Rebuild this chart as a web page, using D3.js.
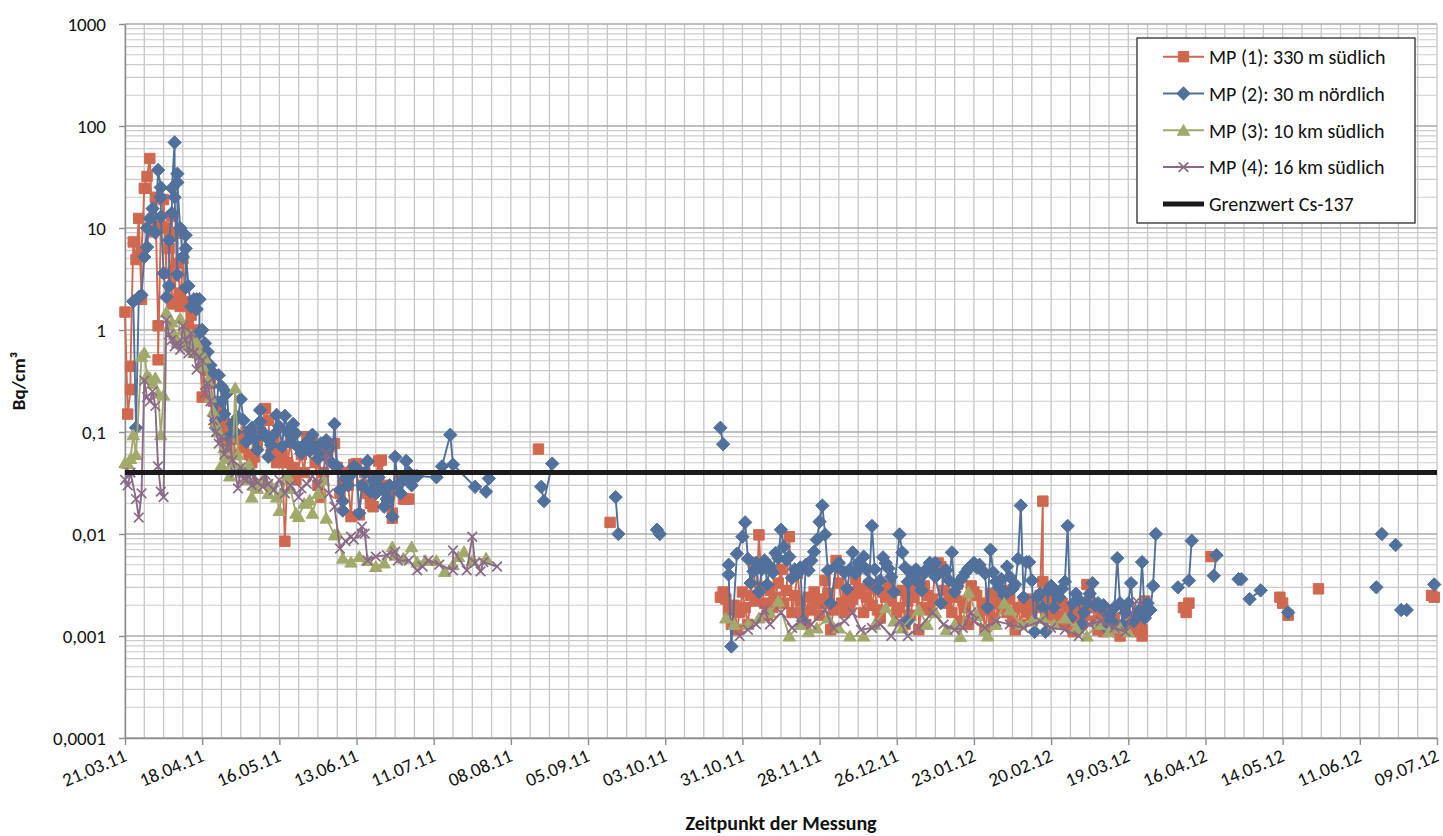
<!DOCTYPE html>
<html><head><meta charset="utf-8">
<script src="https://cdn.jsdelivr.net/npm/d3@7"></script>
<style>
body{margin:0;background:#fff}
svg text{font-family:Calibri,Carlito,Lato,"Open Sans",sans-serif}
</style>
</head><body>
<svg id="chart" width="1443" height="836"></svg>
<script>
// ---------- data ----------
const tickDates = ["21.03.11","18.04.11","16.05.11","13.06.11","11.07.11","08.08.11","05.09.11","03.10.11","31.10.11","28.11.11","26.12.11","23.01.12","20.02.12","19.03.12","16.04.12","14.05.12","11.06.12","09.07.12"];
const yTickValues = [0.0001,0.001,0.01,0.1,1,10,100,1000];
const yTickLabels = ["0,0001","0,001","0,01","0,1","1","10","100","1000"];
const seriesNames = ["MP (1): 330 m südlich","MP (2): 30 m nördlich","MP (3): 10 km südlich","MP (4): 16 km südlich","Grenzwert Cs-137"];
const limitValue = 0.04;
const yTitle = "Bq/cm³";
const xTitle = "Zeitpunkt der Messung";

const mp1 = [["21.03.11",1.5],["22.03.11",0.15],["23.03.11",0.26],["23.03.11",0.44],["24.03.11",7.3],["25.03.11",4.9],["26.03.11",12.4],["27.03.11",2.0],["27.03.11",5.8],["28.03.11",24.5],["29.03.11",32],["30.03.11",48],["31.03.11",9.2],["01.04.11",20],["02.04.11",1.1],["02.04.11",0.51],["03.04.11",10.3],["04.04.11",19],["05.04.11",3.6],["05.04.11",10],["06.04.11",6.3],["07.04.11",1.8],["07.04.11",13],["08.04.11",2.0],["09.04.11",8.9],["09.04.11",4.5],["10.04.11",2.3],["10.04.11",1.7],["11.04.11",5],["12.04.11",1.9],["13.04.11",1.1],["14.04.11",1.4],["15.04.11",0.9],["16.04.11",1.0],["17.04.11",0.7],["18.04.11",0.22],["19.04.11",0.51],["20.04.11",0.4],["21.04.11",0.3],["22.04.11",0.2],["23.04.11",0.12],["24.04.11",0.18],["25.04.11",0.1],["26.04.11",0.08],["27.04.11",0.12],["28.04.11",0.07],["29.04.11",0.09],["30.04.11",0.06],["02.05.11",0.085],["03.05.11",0.07],["04.05.11",0.1],["05.05.11",0.06],["06.05.11",0.05],["07.05.11",0.057],["08.05.11",0.08],["09.05.11",0.1],["11.05.11",0.17],["12.05.11",0.13],["13.05.11",0.06],["14.05.11",0.09],["15.05.11",0.05],["16.05.11",0.07],["17.05.11",0.06],["18.05.11",0.0085],["19.05.11",0.05],["20.05.11",0.08],["21.05.11",0.045],["22.05.11",0.034],["24.05.11",0.06],["25.05.11",0.04],["26.05.11",0.09],["28.05.11",0.083],["29.05.11",0.05],["30.05.11",0.03],["31.05.11",0.023],["01.06.11",0.04],["02.06.11",0.06],["03.06.11",0.072],["05.06.11",0.077],["06.06.11",0.045],["07.06.11",0.025],["08.06.11",0.03],["09.06.11",0.04],["10.06.11",0.03],["11.06.11",0.0148],["12.06.11",0.048],["13.06.11",0.049],["14.06.11",0.0154],["15.06.11",0.03],["16.06.11",0.04],["17.06.11",0.025],["18.06.11",0.02],["19.06.11",0.0185],["20.06.11",0.035],["21.06.11",0.052],["22.06.11",0.029],["22.06.11",0.053],["23.06.11",0.03],["24.06.11",0.02],["25.06.11",0.025],["26.06.11",0.0143],["26.06.11",0.016],["27.06.11",0.028],["28.06.11",0.028],["29.06.11",0.035],["30.06.11",0.022],["01.07.11",0.022],["02.07.11",0.022],null,["18.08.11",0.068],null,["13.09.11",0.013],null,
["23.10.11",0.0024],["24.10.11",0.0027],["25.10.11",0.0023],["26.10.11",0.0018],["27.10.11",0.0013],["28.10.11",0.002],["29.10.11",0.00115],["30.10.11",0.0017],["31.10.11",0.0027],["01.11.11",0.0019],["02.11.11",0.0013],["03.11.11",0.0025],["04.11.11",0.0052],["05.11.11",0.0022],["06.11.11",0.0098],["07.11.11",0.003],["08.11.11",0.0021],["09.11.11",0.0016],["10.11.11",0.0028],["11.11.11",0.0019],["12.11.11",0.0024],["13.11.11",0.0033],["14.11.11",0.0045],["15.11.11",0.0021],["16.11.11",0.0028],["17.11.11",0.0094],["18.11.11",0.0017],["19.11.11",0.0025],["20.11.11",0.0041],["21.11.11",0.0022],["22.11.11",0.0017],["23.11.11",0.0013],["24.11.11",0.0024],["25.11.11",0.0018],["26.11.11",0.0027],["27.11.11",0.0023],["28.11.11",0.0016],["29.11.11",0.0021],["30.11.11",0.0035],["01.12.11",0.0026],["02.12.11",0.00115],["03.12.11",0.0018],["04.12.11",0.0055],["05.12.11",0.0033],["06.12.11",0.0021],["07.12.11",0.0017],["08.12.11",0.0026],["09.12.11",0.0019],["10.12.11",0.0023],["11.12.11",0.0036],["12.12.11",0.0029],["13.12.11",0.0026],["14.12.11",0.0017],["15.12.11",0.0024],["16.12.11",0.0032],["17.12.11",0.0020],["18.12.11",0.0029],["19.12.11",0.0018],["20.12.11",0.0015],["21.12.11",0.0027],["22.12.11",0.0024],["23.12.11",0.0031],["24.12.11",0.0022],["26.12.11",0.0017],["27.12.11",0.0019],["28.12.11",0.0028],["29.12.11",0.0013],["30.12.11",0.0022],["31.12.11",0.0016],["01.01.12",0.0024],["02.01.12",0.0029],["03.01.12",0.0035],["03.01.12",0.00115],["04.01.12",0.0019],["05.01.12",0.0031],["06.01.12",0.0025],["07.01.12",0.0018],["08.01.12",0.0023],["09.01.12",0.0047],["10.01.12",0.0052],["11.01.12",0.0048],["12.01.12",0.0028],["13.01.12",0.0021],["14.01.12",0.0026],["15.01.12",0.0017],["16.01.12",0.0024],["17.01.12",0.0032],["18.01.12",0.0014],["19.01.12",0.0022],["20.01.12",0.0019],["21.01.12",0.0013],["22.01.12",0.0031],["23.01.12",0.0027],["24.01.12",0.0025],["25.01.12",0.0016],["26.01.12",0.0021],["27.01.12",0.00115],["28.01.12",0.0018],["29.01.12",0.0026],["30.01.12",0.0015],["31.01.12",0.0021],["01.02.12",0.0024],["02.02.12",0.0019],["03.02.12",0.0028],["04.02.12",0.0017],["05.02.12",0.0023],["06.02.12",0.0014],["07.02.12",0.00115],["08.02.12",0.0019],["09.02.12",0.0013],["10.02.12",0.0022],["11.02.12",0.0017],["12.02.12",0.0023],["13.02.12",0.0016],["14.02.12",0.0021],["15.02.12",0.0019],["16.02.12",0.0025],["17.02.12",0.021],["17.02.12",0.0034],["18.02.12",0.0015],["19.02.12",0.0024],["20.02.12",0.0018],["21.02.12",0.0022],["22.02.12",0.0014],["23.02.12",0.0016],["24.02.12",0.0021],["25.02.12",0.0013],["26.02.12",0.0019],["27.02.12",0.0017],["28.02.12",0.0011],["29.02.12",0.0015],["01.03.12",0.0018],["02.03.12",0.0013],["03.03.12",0.0016],["04.03.12",0.0032],["05.03.12",0.0022],["06.03.12",0.0019],["07.03.12",0.0014],["08.03.12",0.00115],["09.03.12",0.0016],["10.03.12",0.0011],["11.03.12",0.0013],["12.03.12",0.0017],["13.03.12",0.0012],["14.03.12",0.0015],["15.03.12",0.0011],["16.03.12",0.001],["18.03.12",0.0019],["19.03.12",0.00115],["20.03.12",0.0012],["21.03.12",0.0015],["22.03.12",0.0011],["23.03.12",0.0013],["24.03.12",0.001],["24.03.12",0.00115],["25.03.12",0.0022],null,
["08.04.12",0.0019],["09.04.12",0.0017],["10.04.12",0.0021],null,["18.04.12",0.006],null,["13.05.12",0.0024],["14.05.12",0.0021],["16.05.12",0.0016],null,["27.05.12",0.0029],null,["07.07.12",0.0025],["08.07.12",0.0024]];

const mp2 = [["24.03.11",1.9],["25.03.11",0.11],["26.03.11",2.1],["27.03.11",2.2],["28.03.11",5.2],["29.03.11",10],["29.03.11",6.5],["30.03.11",12.4],["31.03.11",15.5],["01.04.11",9],["02.04.11",37],["03.04.11",25],["03.04.11",20],["03.04.11",12.9],["04.04.11",3.6],["05.04.11",2.1],["06.04.11",2.7],["06.04.11",7.6],["07.04.11",14],["07.04.11",24.5],["08.04.11",69],["08.04.11",20],["09.04.11",3.5],["09.04.11",34],["09.04.11",28],["10.04.11",10],["11.04.11",5.2],["12.04.11",8.5],["12.04.11",2.6],["12.04.11",6.3],["13.04.11",2.7],["14.04.11",1.7],["15.04.11",2.0],["16.04.11",1.6],["16.04.11",2.0],["17.04.11",2.0],["17.04.11",0.93],["18.04.11",1.0],["19.04.11",0.74],["20.04.11",0.61],["21.04.11",0.45],["22.04.11",0.38],["23.04.11",0.13],["23.04.11",0.11],["24.04.11",0.36],["25.04.11",0.28],["25.04.11",0.2],["26.04.11",0.15],["27.04.11",0.24],["28.04.11",0.09],["29.04.11",0.12],["30.04.11",0.1],["01.05.11",0.14],["02.05.11",0.21],["03.05.11",0.13],["04.05.11",0.08],["05.05.11",0.1],["06.05.11",0.11],["07.05.11",0.085],["08.05.11",0.067],["09.05.11",0.126],["09.05.11",0.164],["10.05.11",0.1],["11.05.11",0.09],["12.05.11",0.057],["13.05.11",0.075],["14.05.11",0.094],["15.05.11",0.147],["16.05.11",0.113],["17.05.11",0.072],["18.05.11",0.144],["19.05.11",0.1],["20.05.11",0.08],["21.05.11",0.12],["22.05.11",0.097],["23.05.11",0.07],["24.05.11",0.062],["25.05.11",0.075],["26.05.11",0.08],["27.05.11",0.065],["28.05.11",0.094],["29.05.11",0.07],["30.05.11",0.055],["31.05.11",0.077],["01.06.11",0.06],["02.06.11",0.083],["03.06.11",0.07],["04.06.11",0.05],["05.06.11",0.12],["06.06.11",0.046],["07.06.11",0.027],["08.06.11",0.017],["08.06.11",0.021],["09.06.11",0.035],["10.06.11",0.03],["11.06.11",0.038],["12.06.11",0.046],["13.06.11",0.044],["14.06.11",0.016],["15.06.11",0.03],["16.06.11",0.04],["17.06.11",0.052],["17.06.11",0.051],["18.06.11",0.026],["19.06.11",0.033],["20.06.11",0.025],["21.06.11",0.036],["22.06.11",0.028],["23.06.11",0.0185],["23.06.11",0.027],["24.06.11",0.022],["25.06.11",0.03],["26.06.11",0.0148],["27.06.11",0.057],["28.06.11",0.03],["29.06.11",0.025],["30.06.11",0.034],["01.07.11",0.052],["02.07.11",0.04],["03.07.11",0.03],["04.07.11",0.037],["05.07.11",0.037],["12.07.11",0.036],["14.07.11",0.046],["17.07.11",0.094],["18.07.11",0.048],["26.07.11",0.029],["30.07.11",0.026],["31.07.11",0.035],null,["19.08.11",0.029],["20.08.11",0.021],["23.08.11",0.049],null,["15.09.11",0.023],["16.09.11",0.010],null,["30.09.11",0.011],["01.10.11",0.010],null,["23.10.11",0.11],["24.10.11",0.076],null,
["26.10.11",0.005],["26.10.11",0.004],["27.10.11",0.00079],["29.10.11",0.0064],["31.10.11",0.0094],["01.11.11",0.013],["02.11.11",0.0057],["03.11.11",0.0033],["04.11.11",0.0043],["05.11.11",0.0052],["06.11.11",0.0027],["07.11.11",0.0045],["08.11.11",0.0055],["09.11.11",0.0032],["10.11.11",0.0048],["11.11.11",0.0042],["12.11.11",0.0065],["13.11.11",0.0058],["14.11.11",0.011],["15.11.11",0.0075],["16.11.11",0.0056],["17.11.11",0.006],["18.11.11",0.0037],["19.11.11",0.0045],["20.11.11",0.0041],["21.11.11",0.0047],["22.11.11",0.0014],["23.11.11",0.005],["24.11.11",0.0044],["25.11.11",0.0055],["26.11.11",0.0067],["27.11.11",0.0088],["28.11.11",0.0132],["29.11.11",0.019],["30.11.11",0.0099],["01.12.11",0.0044],["02.12.11",0.0021],["04.12.11",0.0048],["05.12.11",0.0052],["07.12.11",0.0042],["08.12.11",0.0029],["09.12.11",0.0045],["10.12.11",0.0066],["11.12.11",0.0041],["12.12.11",0.0052],["13.12.11",0.0048],["14.12.11",0.006],["15.12.11",0.0045],["16.12.11",0.0034],["17.12.11",0.012],["18.12.11",0.0045],["19.12.11",0.0029],["20.12.11",0.0035],["21.12.11",0.0059],["22.12.11",0.0052],["23.12.11",0.0046],["24.12.11",0.0038],["25.12.11",0.0027],["27.12.11",0.0099],["28.12.11",0.0066],["29.12.11",0.0047],["30.12.11",0.0034],["30.12.11",0.0014],["31.12.11",0.0042],["01.01.12",0.0038],["02.01.12",0.0045],["03.01.12",0.0033],["04.01.12",0.0028],["05.01.12",0.0041],["06.01.12",0.0046],["07.01.12",0.0052],["08.01.12",0.0045],["09.01.12",0.0052],["09.01.12",0.0038],["11.01.12",0.0021],["12.01.12",0.0043],["13.01.12",0.0044],["14.01.12",0.0035],["15.01.12",0.0066],["16.01.12",0.0027],["17.01.12",0.0031],["18.01.12",0.0035],["19.01.12",0.0038],["20.01.12",0.0042],["21.01.12",0.0046],["22.01.12",0.0049],["23.01.12",0.0052],["24.01.12",0.0047],["25.01.12",0.005],["26.01.12",0.0044],["27.01.12",0.0041],["28.01.12",0.0019],["29.01.12",0.007],["30.01.12",0.0042],["31.01.12",0.0034],["01.02.12",0.0030],["02.02.12",0.0036],["03.02.12",0.0025],["04.02.12",0.0048],["05.02.12",0.0038],["06.02.12",0.0029],["07.02.12",0.0032],["08.02.12",0.0057],["09.02.12",0.019],["10.02.12",0.0024],["11.02.12",0.0053],["12.02.12",0.0053],["13.02.12",0.0035],["14.02.12",0.0011],["15.02.12",0.0024],["16.02.12",0.0026],["17.02.12",0.0019],["18.02.12",0.0011],["19.02.12",0.0028],["20.02.12",0.0031],["21.02.12",0.0019],["22.02.12",0.0027],["23.02.12",0.0024],["24.02.12",0.0029],["25.02.12",0.0034],["26.02.12",0.012],["27.02.12",0.0015],["28.02.12",0.0021],["29.02.12",0.0026],["01.03.12",0.0023],["02.03.12",0.0013],["03.03.12",0.0017],["04.03.12",0.0021],["05.03.12",0.0026],["06.03.12",0.0033],["07.03.12",0.0020],["08.03.12",0.0021],["09.03.12",0.0019],["10.03.12",0.0020],["11.03.12",0.0012],["12.03.12",0.0016],["13.03.12",0.0014],["14.03.12",0.0019],["15.03.12",0.0058],["16.03.12",0.0021],["17.03.12",0.0013],["18.03.12",0.0017],["19.03.12",0.0021],["20.03.12",0.0033],["21.03.12",0.0014],["22.03.12",0.0016],["23.03.12",0.0018],["24.03.12",0.0053],["25.03.12",0.0015],["26.03.12",0.0021],["27.03.12",0.0018],["28.03.12",0.0031],["29.03.12",0.0100],null,
["06.04.12",0.0030],["10.04.12",0.0035],["11.04.12",0.0086],null,["19.04.12",0.0039],["20.04.12",0.0062],null,["28.04.12",0.0036],["29.04.12",0.0036],null,["02.05.12",0.0023],["06.05.12",0.0028],null,["16.05.12",0.0017],null,["17.06.12",0.0030],null,["19.06.12",0.0100],null,["24.06.12",0.0078],null,["26.06.12",0.0018],["28.06.12",0.0018],null,["08.07.12",0.0032]];

const mp3 = [["21.03.11",0.05],["22.03.11",0.049],["23.03.11",0.055],["24.03.11",0.094],["25.03.11",0.06],["27.03.11",0.55],["28.03.11",0.6],["29.03.11",0.36],["30.03.11",0.34],["31.03.11",0.3],["01.04.11",0.34],["02.04.11",0.24],["03.04.11",0.094],["04.04.11",0.23],["05.04.11",1.5],["06.04.11",1.1],["07.04.11",1.2],["08.04.11",0.9],["09.04.11",0.75],["10.04.11",1.3],["11.04.11",1.0],["12.04.11",0.8],["13.04.11",0.7],["14.04.11",0.9],["15.04.11",0.6],["16.04.11",0.75],["17.04.11",0.6],["18.04.11",0.45],["19.04.11",0.53],["20.04.11",0.32],["21.04.11",0.22],["22.04.11",0.16],["23.04.11",0.12],["24.04.11",0.1],["25.04.11",0.048],["26.04.11",0.07],["27.04.11",0.055],["28.04.11",0.037],["29.04.11",0.05],["30.04.11",0.27],["01.05.11",0.06],["02.05.11",0.046],["03.05.11",0.04],["04.05.11",0.034],["05.05.11",0.048],["06.05.11",0.023],["07.05.11",0.03],["08.05.11",0.028],["10.05.11",0.034],["12.05.11",0.025],["13.05.11",0.03],["15.05.11",0.023],["16.05.11",0.017],["17.05.11",0.026],["19.05.11",0.037],["20.05.11",0.028],["22.05.11",0.016],["23.05.11",0.0148],["25.05.11",0.02],["27.05.11",0.0215],["28.05.11",0.016],["30.05.11",0.025],["01.06.11",0.034],["02.06.11",0.0143],["05.06.11",0.0098],["06.06.11",0.0101],["08.06.11",0.0058],["11.06.11",0.0053],["14.06.11",0.006],["17.06.11",0.0055],["20.06.11",0.0048],["23.06.11",0.0052],["26.06.11",0.0075],["27.06.11",0.0062],["30.06.11",0.0058],["03.07.11",0.0075],["05.07.11",0.0053],["08.07.11",0.0055],["12.07.11",0.0055],["15.07.11",0.0043],["18.07.11",0.005],["20.07.11",0.006],["22.07.11",0.0067],["25.07.11",0.0055],["30.07.11",0.0058],null,
["25.10.11",0.0015],["28.10.11",0.0013],["02.11.11",0.0013],["06.11.11",0.0015],["10.11.11",0.0017],["13.11.11",0.0022],["17.11.11",0.001],["21.11.11",0.0013],["24.11.11",0.0011],["27.11.11",0.0012],["01.12.11",0.0015],["05.12.11",0.0012],["09.12.11",0.001],["14.12.11",0.001],["18.12.11",0.0013],["22.12.11",0.0019],["25.12.11",0.0014],["28.12.11",0.0012],["03.01.12",0.0018],["06.01.12",0.0013],["09.01.12",0.0017],["13.01.12",0.00115],["16.01.12",0.0013],["18.01.12",0.00099],["21.01.12",0.0027],["24.01.12",0.0016],["27.01.12",0.00115],["28.01.12",0.001],["31.01.12",0.0013],["03.02.12",0.0021],["05.02.12",0.0018],["09.02.12",0.0013],["13.02.12",0.0014],["17.02.12",0.0015],["21.02.12",0.0013],["25.02.12",0.0015],["29.02.12",0.0012],["04.03.12",0.001],["08.03.12",0.0013],["12.03.12",0.0011],["16.03.12",0.0012],["19.03.12",0.0011]];

const mp4 = [["21.03.11",0.034],["22.03.11",0.03],["23.03.11",0.04],["25.03.11",0.022],["26.03.11",0.0145],["27.03.11",0.025],["28.03.11",0.32],["29.03.11",0.22],["30.03.11",0.2],["31.03.11",0.25],["01.04.11",0.18],["02.04.11",0.046],["03.04.11",0.026],["04.04.11",0.023],["05.04.11",1.25],["06.04.11",0.9],["07.04.11",0.8],["08.04.11",0.69],["09.04.11",0.75],["10.04.11",0.64],["11.04.11",1.1],["12.04.11",0.8],["13.04.11",0.59],["14.04.11",0.93],["15.04.11",0.6],["16.04.11",0.41],["17.04.11",0.55],["18.04.11",0.5],["19.04.11",0.24],["20.04.11",0.3],["21.04.11",0.2],["22.04.11",0.13],["23.04.11",0.1],["24.04.11",0.077],["25.04.11",0.09],["26.04.11",0.06],["27.04.11",0.07],["28.04.11",0.083],["29.04.11",0.053],["30.04.11",0.04],["01.05.11",0.028],["02.05.11",0.045],["03.05.11",0.035],["04.05.11",0.034],["05.05.11",0.04],["06.05.11",0.03],["07.05.11",0.037],["08.05.11",0.032],["10.05.11",0.029],["11.05.11",0.038],["12.05.11",0.031],["14.05.11",0.027],["16.05.11",0.034],["18.05.11",0.025],["20.05.11",0.03],["23.05.11",0.023],["24.05.11",0.028],["26.05.11",0.031],["28.05.11",0.037],["30.05.11",0.03],["01.06.11",0.042],["02.06.11",0.062],["03.06.11",0.025],["05.06.11",0.0185],["07.06.11",0.0072],["09.06.11",0.0085],["11.06.11",0.0094],["12.06.11",0.0088],["15.06.11",0.0118],["15.06.11",0.0101],["16.06.11",0.0101],["17.06.11",0.0055],["20.06.11",0.006],["24.06.11",0.0062],["27.06.11",0.0067],["28.06.11",0.0055],["02.07.11",0.0055],["05.07.11",0.0044],["07.07.11",0.0048],["09.07.11",0.0055],["13.07.11",0.005],["18.07.11",0.0044],["18.07.11",0.0069],["23.07.11",0.0044],["25.07.11",0.0094],["26.07.11",0.0052],["28.07.11",0.0043],["29.07.11",0.0053],["03.08.11",0.0048],null,
["30.10.11",0.001],["02.11.11",0.00115],["05.11.11",0.0013],["08.11.11",0.0018],["10.11.11",0.0013],["14.11.11",0.0017],["18.11.11",0.0012],["21.11.11",0.0014],["25.11.11",0.0013],["30.11.11",0.0018],["03.12.11",0.0012],["07.12.11",0.0014],["10.12.11",0.0017],["13.12.11",0.00115],["17.12.11",0.0012],["20.12.11",0.0013],["24.12.11",0.001],["27.12.11",0.0014],["30.12.11",0.001],["03.01.12",0.0012],["08.01.12",0.0017],["12.01.12",0.0013],["16.01.12",0.00115],["19.01.12",0.0012],["22.01.12",0.0017],["23.01.12",0.0014],["27.01.12",0.0012],["31.01.12",0.0014],["05.02.12",0.0013],["10.02.12",0.0012],["16.02.12",0.0014],["20.02.12",0.0012],["25.02.12",0.00115],["01.03.12",0.001],["05.03.12",0.0013],["09.03.12",0.0014],["14.03.12",0.0012],["18.03.12",0.0011],["22.03.12",0.0022]];

// ---------- setup ----------
const svg = d3.select("#chart");
const P = {left:125, right:1437, top:24, bottom:738};
const parse = d3.utcParse("%d.%m.%y");
const startDate = parse(tickDates[0]), endDate = parse(tickDates[tickDates.length-1]);
const x = d3.scaleUtc().domain([startDate, endDate]).range([P.left, P.right]);
const y = d3.scaleLog().domain([0.0001, 1000]).range([P.bottom, P.top]);

const font = 'Calibri,Carlito,Lato,"Open Sans",sans-serif';

// ---------- gridlines ----------
const grid = svg.append("g");
const weekLines = d3.range(0, d3.utcDay.count(startDate, endDate) + 1, 7).map(d => d3.utcDay.offset(startDate, d));
grid.selectAll("line.v").data(weekLines).join("line")
  .attr("x1", d => x(d)).attr("x2", d => x(d)).attr("y1", P.top).attr("y2", P.bottom)
  .attr("stroke", "#c6c6c6").attr("stroke-width", 1.3);
const minorY = [];
d3.range(-4, 3).forEach(k => d3.range(2, 10).forEach(m => minorY.push(m * Math.pow(10, k))));
grid.selectAll("line.hm").data(minorY).join("line")
  .attr("x1", P.left).attr("x2", P.right).attr("y1", d => y(d)).attr("y2", d => y(d))
  .attr("stroke", "#cbcbcb").attr("stroke-width", 1.1);
grid.selectAll("line.hM").data(yTickValues).join("line")
  .attr("x1", P.left).attr("x2", P.right).attr("y1", d => y(d)).attr("y2", d => y(d))
  .attr("stroke", "#a8a8a8").attr("stroke-width", 1.6);

// ---------- axes ----------
const xAxis = svg.append("g").attr("transform", `translate(0,${P.bottom})`)
  .call(d3.axisBottom(x).tickValues(tickDates.map(parse)).tickFormat((d, i) => tickDates[i]).tickSize(7).tickSizeOuter(0));
xAxis.selectAll("path,line").attr("stroke", "#8c8c8c").attr("stroke-width", 1.4);
xAxis.selectAll("text").attr("font-family", font).attr("font-size", 19).attr("fill", "#111")
  .attr("text-anchor", "end").attr("x", 0).attr("y", 0).attr("dy", "0.72em")
  .attr("transform", "translate(-3,10) rotate(-23)");

const yAxis = svg.append("g").attr("transform", `translate(${P.left},0)`)
  .call(d3.axisLeft(y).tickValues(yTickValues).tickFormat((d, i) => yTickLabels[i]).tickSize(6).tickSizeOuter(0).tickPadding(13));
yAxis.selectAll("path,line").attr("stroke", "#8c8c8c").attr("stroke-width", 1.4);
yAxis.selectAll("text").attr("font-family", font).attr("font-size", 19).attr("fill", "#111");

svg.append("text").attr("transform", "translate(25,381) rotate(-90)").attr("text-anchor", "middle")
  .attr("font-family", font).attr("font-weight", "bold").attr("font-size", 19).attr("fill", "#111").text(yTitle);
svg.append("text").attr("x", 781).attr("y", 830).attr("text-anchor", "middle")
  .attr("font-family", font).attr("font-weight", "bold").attr("font-size", 20).attr("fill", "#111").text(xTitle);

// ---------- series ----------
const shapes = {
  square: "M-5.2,-5.2H5.2V5.2H-5.2Z",
  diamond: "M0,-6.7L6.7,0L0,6.7L-6.7,0Z",
  triangle: "M0,-5.8L6.2,5L-6.2,5Z",
  cross: "M-4.8,-4.8L4.8,4.8M-4.8,4.8L4.8,-4.8"
};
const styles = [
  {data: mp1, color: "#D0684F", shape: "square", filled: true},
  {data: mp2, color: "#51709B", shape: "diamond", filled: true},
  {data: mp3, color: "#A3A96C", shape: "triangle", filled: true},
  {data: mp4, color: "#8B6A88", shape: "cross", filled: false}
];
const line = d3.line().defined(d => d != null && d[1] != null)
  .x(d => x(parse(d[0]))).y(d => y(d[1]));

function marker(sel, s) {
  sel.attr("d", shapes[s.shape])
    .attr("fill", s.filled ? s.color : "none")
    .attr("stroke", s.color)
    .attr("stroke-width", s.filled ? 1 : 1.7);
}

styles.forEach(s => {
  const g = svg.append("g");
  g.append("path").datum(s.data).attr("d", line).attr("fill", "none")
    .attr("stroke", s.color).attr("stroke-width", 1.9).attr("stroke-linejoin", "round");
  g.selectAll("path.m").data(s.data.filter(d => d != null && d[1] != null)).join("path")
    .attr("class", "m")
    .attr("transform", d => `translate(${x(parse(d[0]))},${y(d[1])})`)
    .call(marker, s);
});

// limit line
svg.append("line").attr("x1", x(startDate)).attr("x2", x(endDate))
  .attr("y1", y(limitValue)).attr("y2", y(limitValue))
  .attr("stroke", "#1b1b1b").attr("stroke-width", 5);

// ---------- legend ----------
const lg = svg.append("g");
lg.append("rect").attr("x", 1137).attr("y", 38).attr("width", 278).attr("height", 185)
  .attr("fill", "#fff").attr("stroke", "#3a3a3a").attr("stroke-width", 1.4);
seriesNames.forEach((name, i) => {
  const cy = 56.7 + i * 36.8;
  const s = styles[i];
  lg.append("line").attr("x1", 1163).attr("x2", 1204).attr("y1", cy).attr("y2", cy)
    .attr("stroke", s ? s.color : "#1b1b1b").attr("stroke-width", s ? 2 : 5);
  if (s) lg.append("path").attr("transform", `translate(1183.5,${cy})`).call(marker, s);
  lg.append("text").attr("x", 1209).attr("y", cy).attr("dy", "0.36em")
    .attr("font-family", font).attr("font-size", 20).attr("fill", "#111").text(name);
});
</script>
</body></html>
